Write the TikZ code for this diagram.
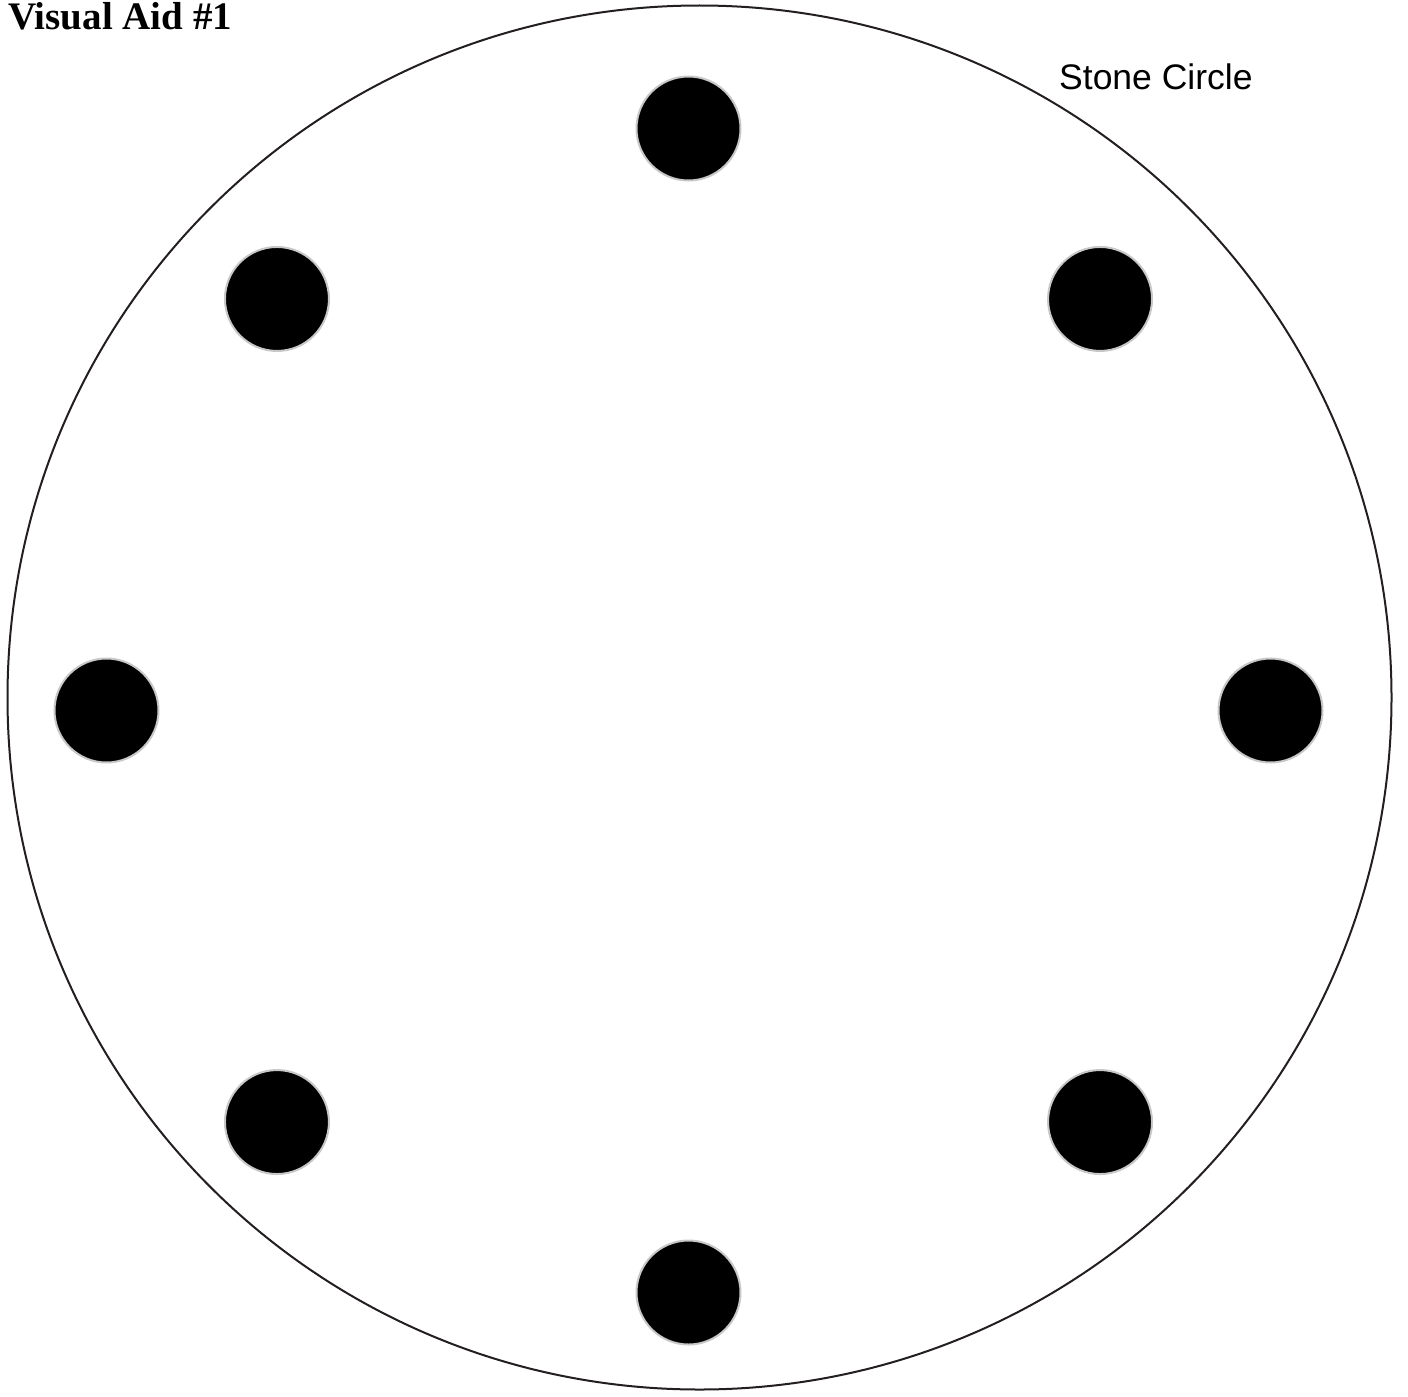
\documentclass[tikz,border=0pt]{standalone}
\usepackage{fontspec}
\setmainfont{Liberation Serif}
\newfontfamily\labelfont{Liberation Sans}
\usetikzlibrary{calc}
\definecolor{inkline}{HTML}{231F20}
\definecolor{stonerim}{HTML}{C8C8C8}
\begin{document}
\begin{tikzpicture}[x=1pt, y=-1pt,
    stone/.style={circle, draw=stonerim, line width=2pt, fill=black, minimum size=104pt, inner sep=0pt},
    ring/.style={circle, draw=inkline, line width=2pt, minimum size=1384pt, inner sep=0pt}]
    \useasboundingbox (0, 0) rectangle (1408, 1397);
    % Outer circle
    \node[ring] (circ) at (699.5, 697.5) {};
    % Stones
    \foreach \a [count=\k] in {90, 45, 0, -45, -90, -135, 180, 135} {
        \node[stone] (stone\k) at ($(688.5, 710.5) + (\a:582)$) {};
    }
    % Labels
    \node[anchor=base west, inner sep=0pt, font=\bfseries\fontsize{39}{39}\selectfont] (title) at (8, 30) {Visual Aid \#1};
    \node[anchor=base west, inner sep=0pt, font=\labelfont\fontsize{35.5}{36}\selectfont] (name) at (1059, 89) {Stone Circle};
\end{tikzpicture}
\end{document}
